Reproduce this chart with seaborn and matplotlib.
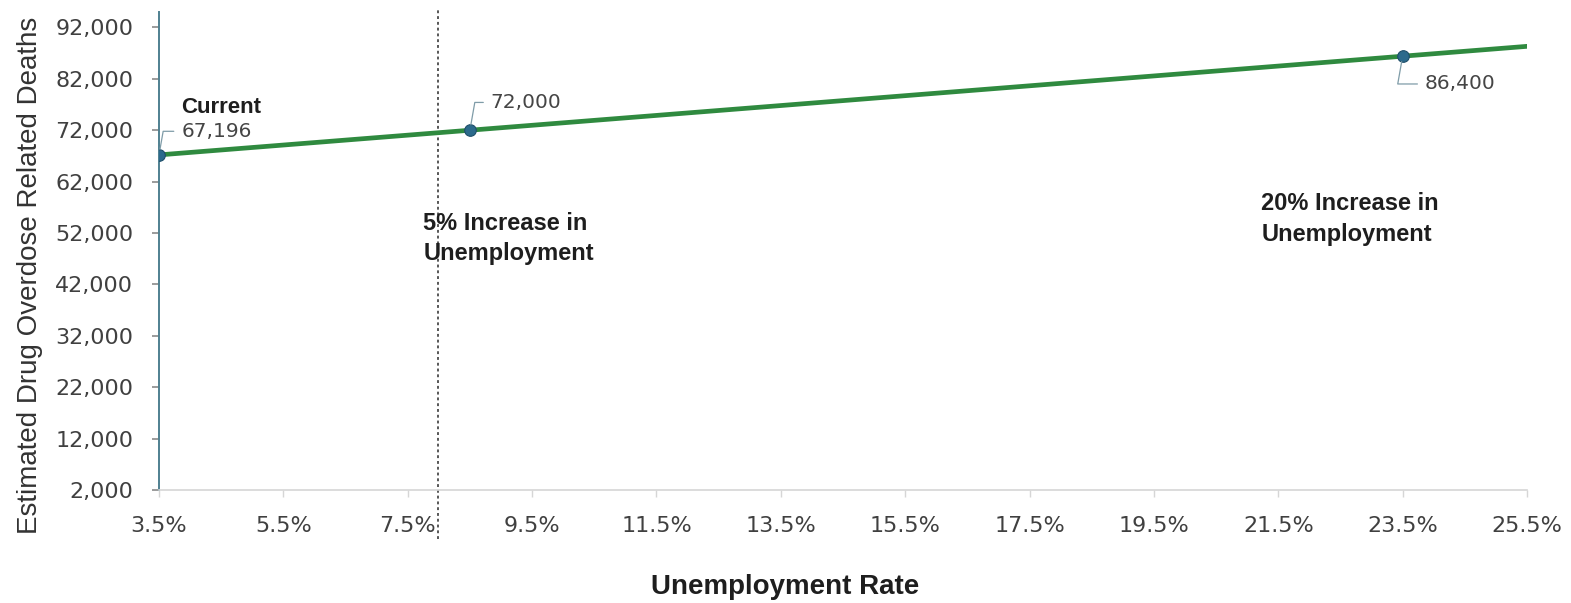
import matplotlib
matplotlib.use("Agg")
import matplotlib.pyplot as plt
import seaborn as sns
import pandas as pd
from matplotlib.ticker import FuncFormatter, FixedLocator

# ---- data ----
line_rate = [3.5, 8.5, 23.5, 25.5]
line_deaths = [67196, 72000, 86400, 88320]
point_rate = [3.5, 8.5, 23.5]
point_deaths = [67196, 72000, 86400]
point_labels = ["67,196", "72,000", "86,400"]
x_ticks = [3.5, 5.5, 7.5, 9.5, 11.5, 13.5, 15.5, 17.5, 19.5, 21.5, 23.5, 25.5]
y_ticks = [2000, 12000, 22000, 32000, 42000, 52000, 62000, 72000, 82000, 92000]
threshold_rate = 7.98
scenario_labels = ["5% Increase in\nUnemployment", "20% Increase in\nUnemployment"]
scenario_pos = [(7.75, 50900), (21.23, 54700)]

sns.set_theme(style="white")
plt.rcParams["font.family"] = ["DejaVu Sans"]
LIB = ["Liberation Sans", "DejaVu Sans"]

fig = plt.figure(figsize=(15.71, 6.03), dpi=100)
ax = fig.add_axes([159 / 1571, 1 - 490 / 603, (1527 - 159) / 1571, (490 - 12) / 603])

df_line = pd.DataFrame({"rate": line_rate, "deaths": line_deaths})
df_pts = pd.DataFrame({"rate": point_rate, "deaths": point_deaths})

sns.lineplot(data=df_line, x="rate", y="deaths", ax=ax, color="#2f8a3f", lw=3.4, zorder=3)
sns.scatterplot(data=df_pts, x="rate", y="deaths", ax=ax, color="#2c6a8c", s=70,
                edgecolor="#1f4f6a", linewidth=0.8, zorder=4)

# dashed reference line
ax.plot([threshold_rate, threshold_rate], [-7500, 95800], color="#4a4a4a", lw=1.3,
        ls=(0, (1.6, 1.6)), clip_on=False, zorder=2)

ax.set_xlim(3.5, 25.5)
ax.set_ylim(2000, 95000)
ax.xaxis.set_major_locator(FixedLocator(x_ticks))
ax.yaxis.set_major_locator(FixedLocator(y_ticks))
ax.xaxis.set_major_formatter(FuncFormatter(lambda v, p: f"{v:.1f}%"))
ax.yaxis.set_major_formatter(FuncFormatter(lambda v, p: f"{int(v):,}"))

for s in ["top", "right"]:
    ax.spines[s].set_visible(False)
ax.spines["left"].set_color("#4f8090")
ax.spines["left"].set_linewidth(1.4)
ax.spines["bottom"].set_color("#d6d6d6")
ax.spines["bottom"].set_linewidth(1.2)

ax.tick_params(axis="y", which="major", left=True, length=5, width=1.2, color="#8a8a8a",
               labelsize=16, labelcolor="#404040", pad=13.5)
ax.tick_params(axis="x", which="major", bottom=True, length=5, width=1, color="#d6d6d6",
               labelsize=16, labelcolor="#404040", pad=14)

ax.set_xlabel("Unemployment Rate", fontsize=20, fontweight="bold", color="#1e1e1e",
              family=LIB)
ax.set_ylabel("Estimated Drug Overdose Related Deaths", fontsize=20, color="#333333",
              family=LIB)
ax.xaxis.set_label_coords(0.458, -0.176)
ax.yaxis.set_label_coords(-0.085, 0.45)

# point annotations
offsets = [(16, 17), (15, 20), (16, -20)]
for x, y, lab, off in zip(point_rate, point_deaths, point_labels, offsets):
    ax.annotate(lab, xy=(x, y), xytext=off, textcoords="offset points",
                ha="left", va="center", fontsize=14.5, color="#454545",
                arrowprops=dict(arrowstyle="-", color="#7f9ca8", lw=0.9, shrinkA=3, shrinkB=4,
                                connectionstyle="angle,angleA=0,angleB=80,rad=0"),
                zorder=5, annotation_clip=False)
ax.annotate("Current", xy=(point_rate[0], point_deaths[0]), xytext=(16, 34),
            textcoords="offset points", ha="left", va="center", fontsize=16,
            fontweight="bold", color="#1e1e1e", family=LIB)

for lab, (tx, ty) in zip(scenario_labels, scenario_pos):
    ax.text(tx, ty, lab, ha="left", va="center", fontsize=17, fontweight="bold",
            color="#1e1e1e", linespacing=1.42, family=LIB)

fig.savefig("out.png", dpi=100, facecolor="white")
